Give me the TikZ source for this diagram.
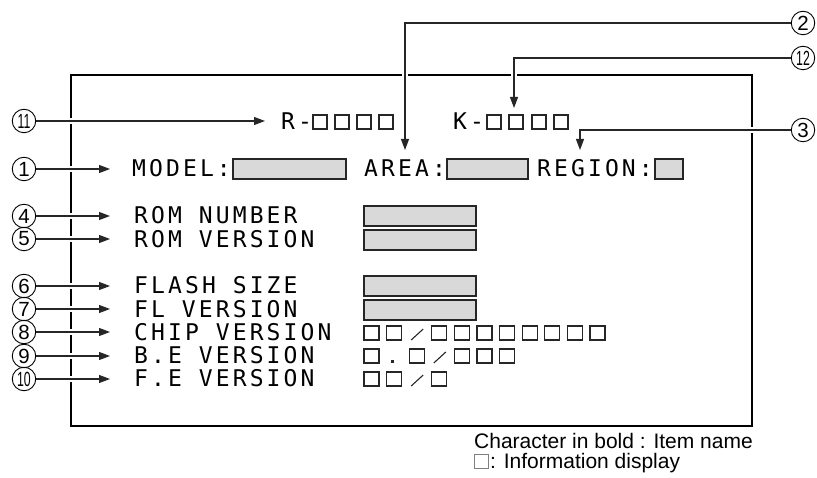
\documentclass[tikz,border=0pt]{standalone}
\usepackage{fontspec}
\setmainfont{Liberation Sans}
\newfontfamily\lcdfont[LetterSpace=13.5]{DejaVu Sans Mono}
\usetikzlibrary{arrows.meta}
\newcommand\infosq[2]{\draw[sq] (#1,#2-7) rectangle ++(15,14);}
\newcommand\infosl[2]{\draw[sq] (#1+2,#2+7) -- ++(12,-11);}
\begin{document}
\begin{tikzpicture}[x=1pt,y=-1pt,
  lbl/.style={font=\lcdfont\fontsize{23}{23}\selectfont, anchor=base west, inner sep=0pt},
  gbox/.style={draw=black!85, fill=black!15, line width=1.2pt},
  sq/.style={draw=black!85, line width=1.1pt},
  cnum/.style={circle, draw, line width=0.9pt, inner sep=0pt, minimum size=23.5pt, font=\fontsize{20.5}{20.5}\selectfont},
  conn/.style={line width=1.1pt, draw=black!85, -{Triangle[length=11pt,width=8pt]},
    preaction={draw=white, line width=6pt, -, shorten <=5pt, shorten >=2pt}},
  legend/.style={anchor=base west, inner sep=0pt, font=\fontsize{21}{21}\selectfont}
]
\useasboundingbox (0,0) rectangle (817,478);
% frame
\draw[line width=2.3pt] (71,75) rectangle (752,426);

% R / K line
\node[lbl] (rtxt) at (281,129.5) {R-};
\foreach \x in {313,335,357,379} {\draw[sq] (\x,115) rectangle ++(14,14);}
\node[lbl] (ktxt) at (453,129.5) {K-};
\foreach \x in {487,509,532,554} {\draw[sq] (\x,115) rectangle ++(14,14);}

% MODEL line
\node[lbl] (model) at (132,177) {MODEL:};
\draw[gbox] (233,159) rectangle (346,179);
\node[lbl] (area) at (364,177) {AREA:};
\draw[gbox] (447,159) rectangle (528,179);
\node[lbl] (region) at (537,177) {REGION:};
\draw[gbox] (655,159) rectangle (683,179);

% items
\node[lbl] (romnum) at (134,224) {ROM NUMBER};
\draw[gbox] (364,206) rectangle (476,226);
\node[lbl] (romver) at (134,248) {ROM VERSION};
\draw[gbox] (364,230) rectangle (476,250);
\node[lbl] (flash) at (134,294) {FLASH SIZE};
\draw[gbox] (364,276) rectangle (476,296);
\node[lbl] (flver) at (134,318) {FL VERSION};
\draw[gbox] (364,300) rectangle (476,320);
\node[lbl] (chip) at (134,341) {CHIP VERSION};
\foreach \i in {0,1,3,4,5,6,7,8,9,10} {\infosq{364+22.6*\i}{333}}
\infosl{364+22.6*2}{333}
\node[lbl] (bever) at (134,364) {B.E VERSION};
\foreach \i in {0,2,4,5,6} {\infosq{364+22.6*\i}{356}}
\fill[black!85] (391,360) rectangle ++(3,3);
\infosl{364+22.6*3}{356}
\node[lbl] (fever) at (134,387) {F.E VERSION};
\foreach \i in {0,1,3} {\infosq{364+22.6*\i}{379}}
\infosl{364+22.6*2}{379}

% circled numbers
\node[cnum] (c11) at (24,121) {\scalebox{0.6}[1]{11}};
\node[cnum] (c1) at (24,169) {1};
\node[cnum] (c4) at (24,216) {4};
\node[cnum] (c5) at (24,239) {5};
\node[cnum] (c6) at (24,286) {6};
\node[cnum] (c7) at (24,309) {7};
\node[cnum] (c8) at (24,332) {8};
\node[cnum] (c9) at (24,356) {9};
\node[cnum] (c10) at (24,379) {\scalebox{0.6}[1]{10}};
\node[cnum] (c2) at (803,23) {2};
\node[cnum] (c12) at (803,58) {\scalebox{0.6}[1]{12}};
\node[cnum] (c3) at (803,130) {3};

% arrow targets
\coordinate (t11) at (265,121);
\coordinate (t1) at (110,169);
\coordinate (t4) at (110,216);
\coordinate (t5) at (110,239);
\coordinate (t6) at (110,286);
\coordinate (t7) at (110,309);
\coordinate (t8) at (110,332);
\coordinate (t9) at (110,356);
\coordinate (t10) at (110,379);
\coordinate (t2) at (405,150);
\coordinate (t12) at (514,108);
\coordinate (t3) at (580,150);

\foreach \n in {11,1,4,5,6,7,8,9,10} {\draw[conn] (c\n.east) -- (t\n);}
\draw[conn] (c2.west) -| (t2);
\draw[conn] (c12.west) -| (t12);
\draw[conn] (c3.west) -| (t3);

% legend
\node[legend] (leg1) at (474,448) {Character in bold : Item name};
\draw[draw=black!50, line width=0.8pt] (474.5,454) rectangle (488,468) coordinate (legsq);
\node[legend] (leg2) at (490,468) {: Information display};
\end{tikzpicture}
\end{document}
